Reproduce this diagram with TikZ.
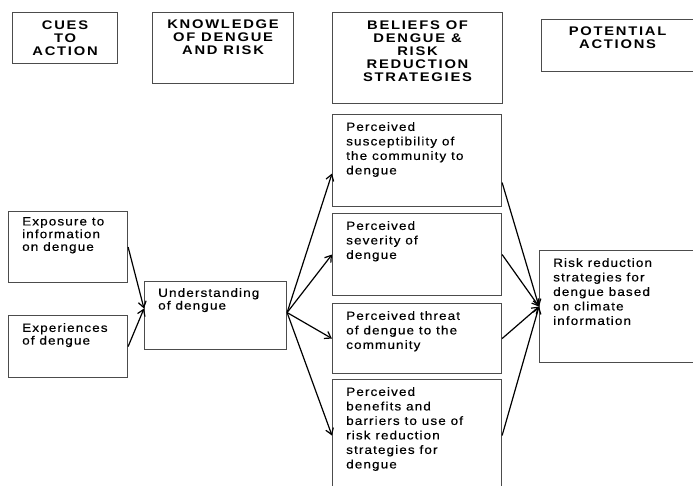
\documentclass[tikz,border=0pt]{standalone}
\usepackage{fontspec}
\setmainfont{Liberation Sans}[LetterSpace=9, FakeStretch=1.13, FakeBold=0.4]
\newfontfamily\headfont{Liberation Sans}[LetterSpace=14, FakeStretch=1.18]
\usepackage{tikz}
\usetikzlibrary{positioning, calc, arrows.meta}
\tikzset{
  cell/.style={draw=black!70, line width=1.1pt, anchor=north west, inner sep=0pt},
  head/.style={anchor=north, inner sep=0pt, align=center, font=\headfont\bfseries\fontsize{12.5}{13}\selectfont},
  body/.style={anchor=north west, inner sep=0pt, align=left, xshift=14pt, yshift=-8pt, font=\fontsize{12}{14.5}\selectfont},
  tight/.style={body, font=\fontsize{12}{12.7}\selectfont},
  link/.style={-{Straight Barb[length=6pt,width=8pt]}, line width=1.2pt}
}
\begin{document}
\begin{tikzpicture}[x=1pt, y=-1pt]
      \useasboundingbox (0,0) rectangle (693,485);
      \clip (0,0) rectangle (693,485);

      \node[cell, minimum width=105pt, minimum height=51pt, label={[head, yshift=-9pt]north:{CUES\\TO\\ACTION}}] (cues) at (12,12) {};
      \node[cell, minimum width=141pt, minimum height=71pt, label={[head, yshift=-8pt]north:{KNOWLEDGE\\OF DENGUE\\AND RISK}}] (know) at (152,12) {};
      \node[cell, minimum width=170pt, minimum height=91pt, label={[head, yshift=-9pt]north:{BELIEFS OF\\DENGUE \&\\RISK\\REDUCTION\\STRATEGIES}}] (belief) at (332,12) {};
      \node[cell, minimum width=160pt, minimum height=52pt, label={[head, yshift=-8pt, xshift=-4pt]north:{POTENTIAL\\ACTIONS}}] (potent) at (541,19) {};

      \node[cell, minimum width=119pt, minimum height=71pt, label={[tight, yshift=2pt]north west:{Exposure to\\information\\on dengue}}] (expo) at (8,211) {};
      \node[cell, minimum width=119pt, minimum height=62pt, label={[tight]north west:{Experiences\\of dengue}}] (exper) at (8,315) {};
      \node[cell, minimum width=142pt, minimum height=68pt, label={[tight, yshift=1pt]north west:{Understanding\\of dengue}}] (under) at (144,281) {};

      \node[cell, minimum width=169pt, minimum height=92pt, label={[body]north west:{Perceived\\susceptibility of\\the community to\\dengue}}] (perc1) at (332,114) {};
      \node[cell, minimum width=169pt, minimum height=82pt, label={[body]north west:{Perceived\\severity of\\dengue}}] (perc2) at (332,213) {};
      \node[cell, minimum width=169pt, minimum height=70pt, label={[body]north west:{Perceived threat\\of dengue to the\\community}}] (perc3) at (332,303) {};
      \node[cell, minimum width=169pt, minimum height=112pt, label={[body]north west:{Perceived\\benefits and\\barriers to use of\\risk reduction\\strategies for\\dengue}}] (perc4) at (332,379) {};

      \node[cell, minimum width=160pt, minimum height=112pt, label={[body]north west:{Risk reduction\\strategies for\\dengue based\\on climate\\information}}] (risk) at (539,250) {};

      \draw[link] (expo.east) -- ([yshift=7pt]under.west);
      \draw[link] (exper.east) -- ([yshift=7pt]under.west);
      \draw[link] ([yshift=3pt]under.east) -- ([yshift=-13pt]perc1.west);
      \draw[link] ([yshift=3pt]under.east) -- (perc2.west);
      \draw[link] ([yshift=3pt]under.east) -- (perc3.west);
      \draw[link] ([yshift=3pt]under.east) -- (perc4.west);
      \draw[link] ([yshift=-22pt]perc1.east) -- (risk.west);
      \draw[link] (perc2.east) -- (risk.west);
      \draw[link] (perc3.east) -- (risk.west);
      \draw[link] (perc4.east) -- (risk.west);
\end{tikzpicture}
\end{document}
